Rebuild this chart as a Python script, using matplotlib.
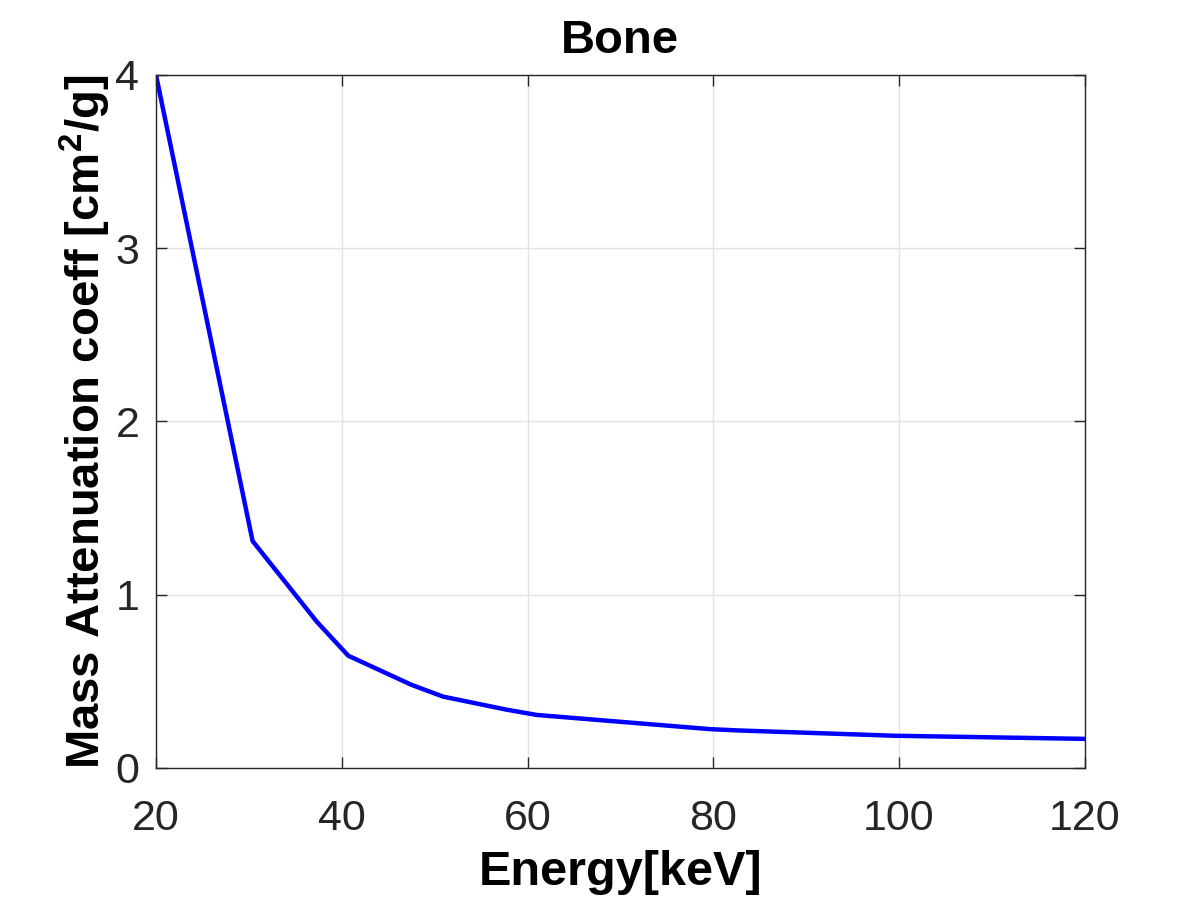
import matplotlib
matplotlib.use("Agg")
import matplotlib.pyplot as plt

# lecture du graphe de référence (os / bone)
energy_kev = [20, 30.4, 37.3, 40.7, 47.5, 50.9, 57.7, 61.0, 79.7, 82.5, 99.5, 120]
mu_rho = [4.0, 1.31, 0.845, 0.648, 0.48, 0.412, 0.337, 0.306, 0.224, 0.217, 0.186, 0.168]

x_ticks = [20, 40, 60, 80, 100, 120]
y_ticks = [0, 1, 2, 3, 4]

plt.rcParams["font.family"] = ["Liberation Sans", "DejaVu Sans"]
plt.rcParams["mathtext.fontset"] = "custom"
plt.rcParams["mathtext.rm"] = "Liberation Sans:bold"
plt.rcParams["mathtext.bf"] = "Liberation Sans:bold"

fig = plt.figure(figsize=(12, 9), dpi=100)
ax = fig.add_axes([0.13, 0.1467, 0.774, 0.77])

ax.plot(energy_kev, mu_rho, color="#0000ff", lw=3.2)

ax.set_xlim(20, 120)
ax.set_ylim(0, 4)
ax.set_xticks(x_ticks)
ax.set_yticks(y_ticks)
ax.grid(True, color="#e3e3e3", lw=1.0)
ax.set_axisbelow(True)

for s in ax.spines.values():
    s.set_color("#262626")
    s.set_linewidth(1.0)
ax.tick_params(direction="in", length=8, width=1.0, colors="#262626",
               labelsize=31, top=True, right=True)
ax.tick_params(axis="x", pad=22)
ax.tick_params(axis="y", pad=12)

ax.set_title("Bone", fontsize=34, fontweight="bold", pad=16)
ax.set_xlabel("Energy[keV]", fontsize=35, fontweight="bold", labelpad=8)
ax.set_ylabel(r"Mass Attenuation coeff [cm$^{\mathbf{2}}$/g]", fontsize=34,
              fontweight="bold", labelpad=2)

fig.savefig("out.png", dpi=100)
